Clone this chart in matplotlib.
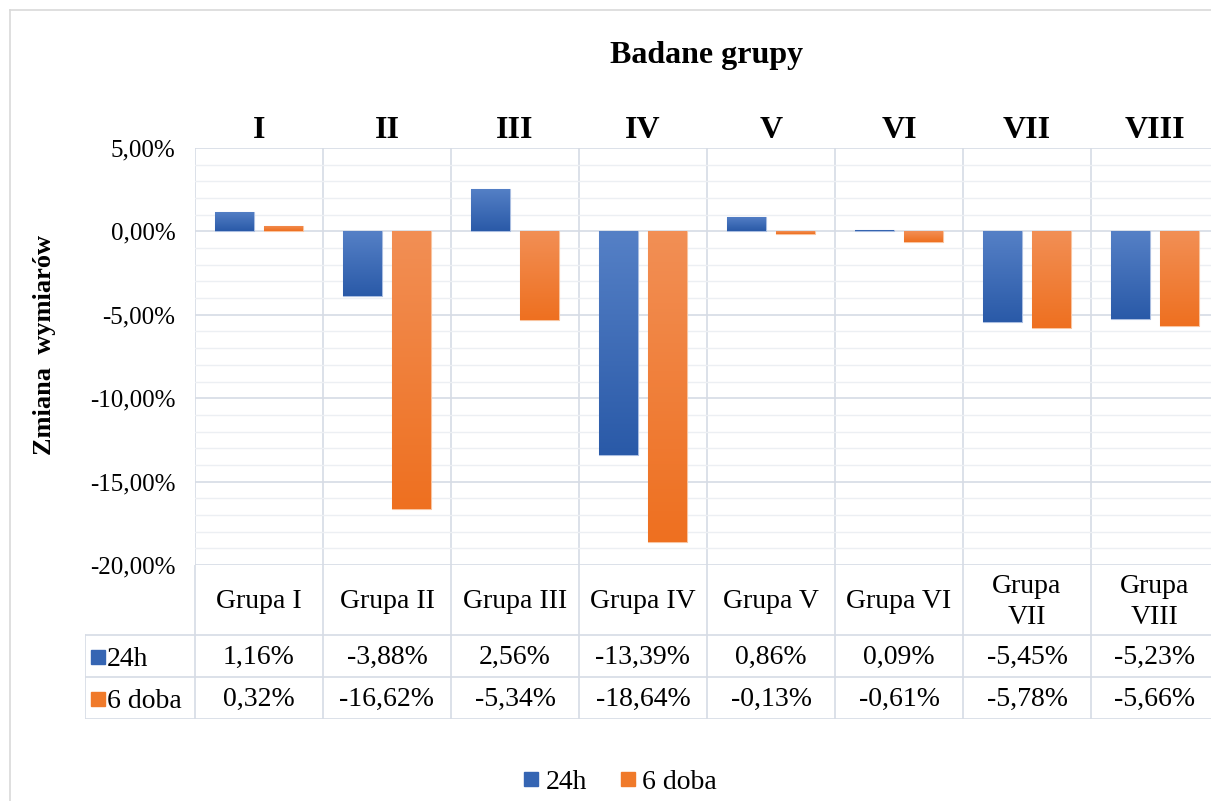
import matplotlib
matplotlib.use("Agg")
import matplotlib.pyplot as plt
from matplotlib.lines import Line2D
from matplotlib.colors import LinearSegmentedColormap
import numpy as np

plt.rcParams["font.family"] = ["Liberation Serif", "DejaVu Serif"]

groups = ["Grupa I", "Grupa II", "Grupa III", "Grupa IV", "Grupa V", "Grupa VI", "Grupa\nVII", "Grupa\nVIII"]
roman = ["I", "II", "III", "IV", "V", "VI", "VII", "VIII"]
series_names = ["24h", "6 doba"]
vals_24h = [1.16, -3.88, 2.56, -13.39, 0.86, 0.09, -5.45, -5.23]
vals_6doba = [0.32, -16.62, -5.34, -18.64, -0.13, -0.61, -5.78, -5.66]
colors = ["#3565b3", "#f07a2a"]
grad = [("#5580c6", "#2a5aa8"), ("#f28f55", "#ee7020")]
edge = ["#a9bde0", "#f8c4a0"]

W, H = 1211, 801
fig = plt.figure(figsize=(W / 100, H / 100), dpi=100)


def fx(px):
    return px / W


def fy(py):
    return 1 - py / H


grid_major = "#d6dce5"
grid_minor = "#eceff3"

# main plot area
ax = fig.add_axes([fx(195), fy(565), fx(1219) - fx(195), fy(148) - fy(565)])
x = np.arange(len(groups))
w = 0.3
off = 0.19
for k, (vals, dx) in enumerate([(vals_24h, -off), (vals_6doba, off)]):
    bars = ax.bar(x + dx, vals, w, color=colors[k], edgecolor=edge[k], linewidth=0.8, zorder=3)
    cmap = LinearSegmentedColormap.from_list(f"g{k}", [grad[k][1], grad[k][0]])
    for b in bars:
        x0, y0 = b.get_x(), b.get_y()
        bw, bh = b.get_width(), b.get_height()
        lo, hi = min(y0, y0 + bh), max(y0, y0 + bh)
        if hi - lo <= 0:
            continue
        im = ax.imshow(np.linspace(0, 1, 100).reshape(-1, 1), cmap=cmap, aspect="auto",
                       extent=[x0, x0 + bw, lo, hi], origin="lower", zorder=3.5)
        im.set_clip_path(b)

ax.set_xlim(-0.5, len(groups) - 0.5)
ax.set_ylim(-20, 5)
ax.set_yticks(np.arange(-20, 5.1, 5))
ax.set_yticks(np.arange(-20, 5.1, 1), minor=True)
ax.set_yticklabels([f"{v:.2f}%".replace(".", ",") for v in np.arange(-20, 5.1, 5)], fontsize=18)
ax.tick_params(axis="y", which="both", length=0, pad=14)
ax.set_xticks([])
for s in ax.spines.values():
    s.set_visible(False)
ax.grid(axis="y", which="major", color=grid_major, linewidth=1.2, zorder=0)
ax.grid(axis="y", which="minor", color=grid_minor, linewidth=1.0, zorder=0)
for bnd in np.arange(-0.5, len(groups), 1.0):
    ax.axvline(bnd, color=grid_major, linewidth=1.2, zorder=1)

for i, r in enumerate(roman):
    ax.text(i, 1 + 17 / 417, r, transform=ax.get_xaxis_transform(), ha="center", va="center",
            fontsize=23, fontweight="bold")

# data table
tax = fig.add_axes([fx(85), fy(719), fx(1219) - fx(85), fy(565) - fy(719)])
left = -0.5 - 110 / 128
tax.set_xlim(left, len(groups) - 0.5)
tax.set_ylim(154, 0)
tax.axis("off")
for bnd in np.arange(-0.5, len(groups), 1.0):
    tax.plot([bnd, bnd], [0, 154], color=grid_major, linewidth=1.2)
tax.plot([left, left], [70, 154], color=grid_major, linewidth=1.2)
for yy in [70, 112, 154]:
    tax.plot([left, len(groups) - 0.5], [yy, yy], color=grid_major, linewidth=1.2)

for i, g in enumerate(groups):
    tax.text(i, 37, g, ha="center", va="center", fontsize=20, linespacing=1.3)
    tax.text(i, 92, f"{vals_24h[i]:.2f}%".replace(".", ","), ha="center", va="center", fontsize=20)
    tax.text(i, 134, f"{vals_6doba[i]:.2f}%".replace(".", ","), ha="center", va="center", fontsize=20)

for row_y, name, c in zip([91, 133], series_names, colors):
    tax.plot([left + 13 / 128], [row_y + 1], marker="s", markersize=10, color=c, linestyle="none")
    tax.text(left + 22 / 128, row_y + 1, name, ha="left", va="center_baseline", fontsize=20)

# titles
fig.text(fx(707), fy(55), "Badane grupy", ha="center", va="center", fontsize=23, fontweight="bold")
fig.text(fx(45), fy(345), "Zmiana  wymiarów", ha="center", va="center", rotation=90,
         fontsize=19, fontweight="bold")

# legend
handles = [Line2D([], [], marker="s", linestyle="none", markersize=10, color=c) for c in colors]
fig.legend(handles, series_names, loc="center", bbox_to_anchor=(fx(620), fy(782)), ncol=2,
           frameon=False, fontsize=20, handlelength=0.6, handletextpad=0.2, columnspacing=1.2)

# chart border
fig.add_artist(Line2D([fx(10), fx(10)], [fy(10), 0], color="#d9d9d9", linewidth=1.2))
fig.add_artist(Line2D([fx(10), 1], [fy(10), fy(10)], color="#d9d9d9", linewidth=1.2))

fig.savefig("out.png", dpi=100)
